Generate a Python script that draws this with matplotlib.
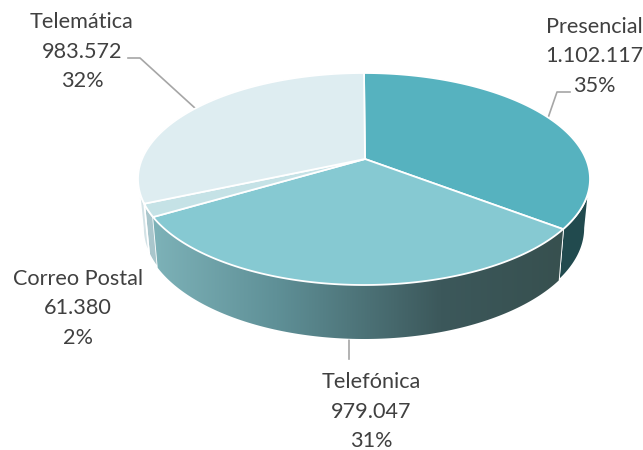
import numpy as np
import matplotlib
matplotlib.use('Agg')
import matplotlib.pyplot as plt
from matplotlib.colors import LinearSegmentedColormap
from matplotlib.patches import Polygon

categories = ['Presencial', 'Telefónica', 'Correo Postal', 'Telemática']
values = [1102117, 979047, 61380, 983572]
value_labels = ['1.102.117', '979.047', '61.380', '983.572']
pct_labels = ['35%', '31%', '2%', '32%']
top_colors = ['#56b2bf', '#86c9d2', '#c5e2e6', '#deedf1']
side_colors = ['#214a4e', None, '#a9c6cc', '#d3e2e6']

plt.rcParams['font.family'] = ['Lato', 'DejaVu Sans']

fig = plt.figure(figsize=(6.43, 4.5), dpi=100)
ax = fig.add_axes([0, 0, 1, 1])

# pie geometry in pixels, apex sits above the ellipse centre because of perspective
cx, cy, rx, ry = 364, 179, 226, 106
apex = (365, 159)
bot_cy, bot_rx, bot_ry = 228, 221, 111
warp = 0.835


def view_angle(a):
    return 2 * np.arctan2(warp * np.sin(a / 2), np.cos(a / 2))


def top_pts(t):
    return np.column_stack([cx + rx * np.sin(t), cy - ry * np.cos(t)])


def bot_pts(t):
    return np.column_stack([cx + bot_rx * np.sin(t), bot_cy - bot_ry * np.cos(t)])


edges = np.concatenate([[0], np.cumsum(values)]) / np.sum(values) * 2 * np.pi
edges = np.unwrap(view_angle(edges))
if edges[-1] < 6:
    edges[-1] += 2 * np.pi

# sides, only the front half of the rim shows
for i in range(len(values)):
    t0 = max(edges[i], np.pi / 2)
    t1 = min(edges[i + 1], 3 * np.pi / 2)
    if t1 <= t0:
        continue
    t = np.linspace(t0, t1, 120)
    pts = np.vstack([top_pts(t), bot_pts(t)[::-1]])
    poly = Polygon(pts, closed=True, fc=side_colors[i] or 'none', ec='white', lw=1.2, zorder=2)
    ax.add_patch(poly)
    if side_colors[i] is None:
        cmap = LinearSegmentedColormap.from_list(
            'side', [(0, '#7db2b8'), (0.3, '#5f9097'), (0.7, '#3c585b'), (1, '#37504f')])
        grad = np.linspace(0, 1, 256).reshape(1, -1)
        im = ax.imshow(grad, cmap=cmap, aspect='auto', zorder=2.1,
                       extent=[pts[:, 0].min(), pts[:, 0].max(), pts[:, 1].max(), pts[:, 1].min()])
        im.set_clip_path(poly)

# top face
for i in range(len(values)):
    t = np.linspace(edges[i], edges[i + 1], 200)
    pts = np.vstack([[apex], top_pts(t)])
    ax.add_patch(Polygon(pts, closed=True, fc=top_colors[i], ec='white', lw=1.3, zorder=3))

# leader lines
leader_color = '#a6a6a6'
ax.plot([548, 557, 570], [118, 92, 92], color=leader_color, lw=1.2, zorder=1)
ax.plot([128, 140, 196], [58, 58, 109], color=leader_color, lw=1.2, zorder=1)
ax.plot([349, 349], [339, 359], color=leader_color, lw=1.2, zorder=1)

# labels, one line per row to keep the row spacing of the original
label_pos = [(594, 27), (371, 382), (78, 279), (82, 22)]
row_h = 29.5
for i in range(len(categories)):
    x, y = label_pos[i]
    rows = [categories[i], value_labels[i], pct_labels[i]]
    for j in range(3):
        ax.text(x, y + j * row_h, rows[j], ha='center', va='center',
                fontsize=15.6, color='#404040', zorder=5)

ax.set_xlim(0, 643)
ax.set_ylim(450, 0)
ax.axis('off')

fig.savefig('out.png', dpi=100)
